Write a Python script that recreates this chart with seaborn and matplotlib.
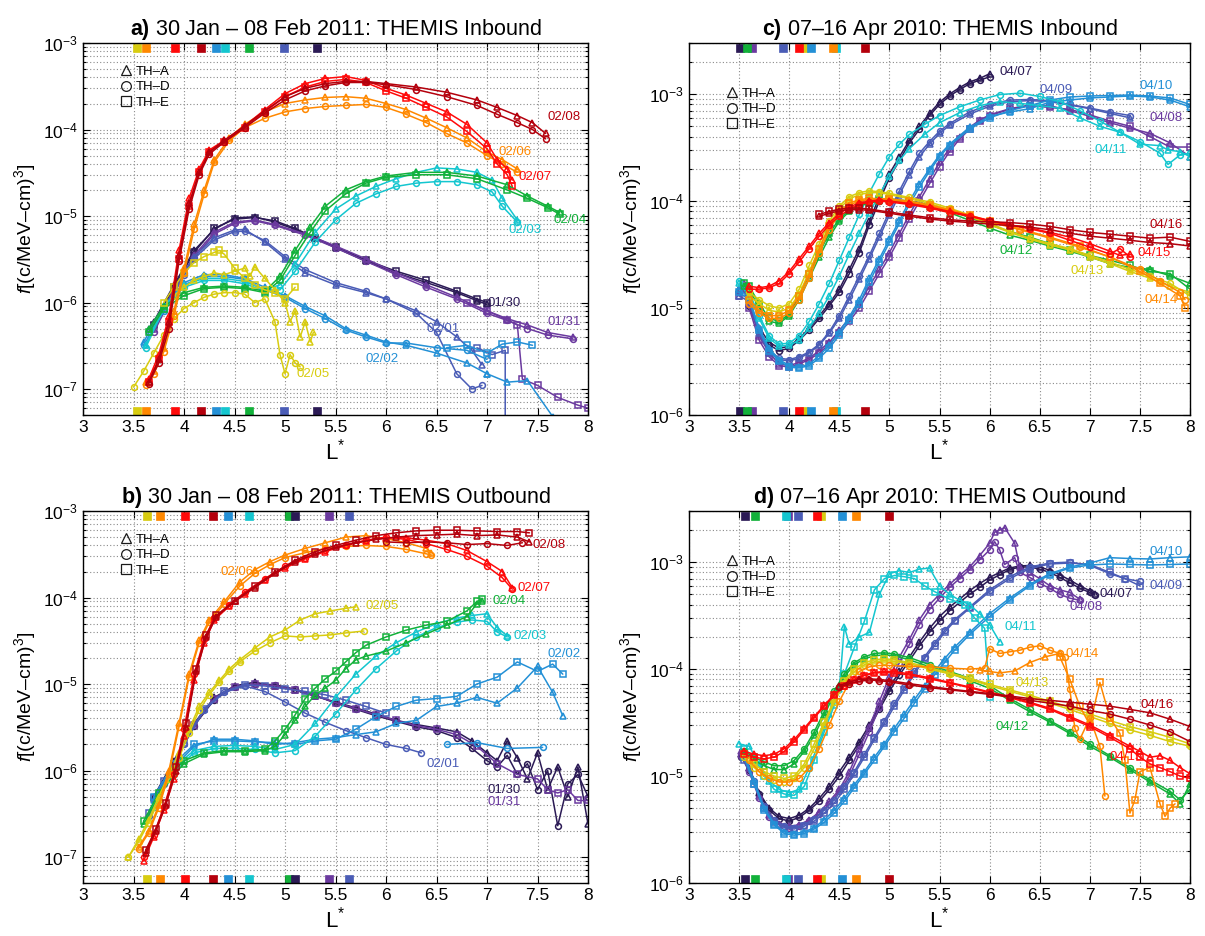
import matplotlib
matplotlib.use("Agg")
import matplotlib.pyplot as plt
from matplotlib.lines import Line2D
from matplotlib.ticker import LogLocator, NullFormatter
import pandas as pd
import seaborn as sns

# ------------------------------------------------------------------ data
DAYS_2011 = ["01/30", "01/31", "02/01", "02/02", "02/03", "02/04", "02/05", "02/06", "02/07", "02/08"]
DAYS_2010 = ["04/07", "04/08", "04/09", "04/10", "04/11", "04/12", "04/13", "04/14", "04/15", "04/16"]
DAY_COLORS = ["#2b1a55", "#6b3a9f", "#4a5cb6", "#2390d6", "#14c6cf",
              "#12b13a", "#d8cc10", "#ff8800", "#ff0a0a", "#b4000c"]
X_TICKS = [3, 3.5, 4, 4.5, 5, 5.5, 6, 6.5, 7, 7.5, 8]
X_TICK_LABELS = ["3", "3.5", "4", "4.5", "5", "5.5", "6", "6.5", "7", "7.5", "8"]

# ---- panel a: 2011 inbound
a0130_L = [3.7,3.9,4.1,4.3,4.5,4.7,4.9,5.1,5.3,5.5,5.8,6.1,6.4,6.7,6.9,7.0]
a0130_A = [6e-7,1.6e-6,4e-6,7e-6,9.5e-6,9.8e-6,8.5e-6,7e-6,5.5e-6,4.3e-6,3e-6,2.2e-6,1.7e-6,1.3e-6,1.05e-6,9.5e-7]
a0130_E = [5.5e-7,1.5e-6,3.8e-6,7.2e-6,9.2e-6,9.6e-6,8.8e-6,7.2e-6,5.6e-6,4.4e-6,3.1e-6,2.3e-6,1.8e-6,1.35e-6,1.1e-6,1.0e-6]
a0131_L = [3.7,3.9,4.1,4.3,4.5,4.7,4.9,5.2,5.5,5.8,6.1,6.4,6.7,7.0,7.2,7.4,7.6,7.85]
a0131_A = [5e-7,1.4e-6,3.5e-6,6.5e-6,8.5e-6,9e-6,8e-6,6.2e-6,4.5e-6,3.2e-6,2.2e-6,1.6e-6,1.15e-6,8e-7,6.5e-7,5.5e-7,4.5e-7,4e-7]
a0131_D = [4.5e-7,1.3e-6,3.3e-6,6.2e-6,8.2e-6,8.8e-6,7.8e-6,6e-6,4.3e-6,3e-6,2.1e-6,1.5e-6,1.1e-6,7.5e-7,6.2e-7,5e-7,4.2e-7,3.8e-7]
a0131_E_L = [6.8,7.0,7.2,7.3,7.35,7.5,7.7,7.9,8.0]
a0131_E = [1.0e-6,8e-7,6.3e-7,5.5e-7,1.3e-7,1.1e-7,8e-8,6.5e-8,6e-8]
a0201_L = [3.65,3.8,3.9,4.0,4.1,4.3,4.5,4.6,4.8,5.0,5.2,5.5,5.8,6.0,6.3,6.5,6.7,6.85,6.95]
a0201_A = [5e-7,9e-7,1.3e-6,2.2e-6,3.4e-6,5.6e-6,6.9e-6,7e-6,5e-6,3.2e-6,2.2e-6,1.6e-6,1.3e-6,1.1e-6,8e-7,6e-7,4e-7,2.8e-7,1.9e-7]
a0201_D = [4.6e-7,8.5e-7,1.25e-6,2.1e-6,3.2e-6,5.3e-6,6.6e-6,6.7e-6,5.2e-6,3.4e-6,2.4e-6,1.7e-6,1.35e-6,1.1e-6,7.5e-7,4.5e-7,1.5e-7,1.0e-7,1.1e-7]
a0201_E_L = [6.9,7.05,7.18,7.18]
a0201_E = [3.0e-7,2.5e-7,2.8e-7,3e-8]
a0202_L = [3.6,3.8,4.0,4.2,4.4,4.6,4.8,5.0,5.2,5.4,5.6,5.8,6.0,6.2,6.5,6.8,7.0]
a0202_A = [3.5e-7,9e-7,1.7e-6,2.1e-6,2.1e-6,1.9e-6,1.5e-6,1.2e-6,9e-7,7e-7,5e-7,4.2e-7,3.5e-7,3.2e-7,2.6e-7,2e-7,1.5e-7]
a0202_D = [3.2e-7,8e-7,1.6e-6,2.0e-6,2.0e-6,1.85e-6,1.4e-6,1.15e-6,8.5e-7,6.5e-7,4.8e-7,4e-7,3.4e-7,3.4e-7,3e-7,2.8e-7,2.2e-7]
a0202_A2_L = [7.0,7.2,7.4,7.65]
a0202_A2 = [1.5e-7,1.2e-7,1.25e-7,4.8e-8]
a0202_E_L = [6.6,6.8,7.0,7.15,7.3,7.45]
a0202_E = [3e-7,3.2e-7,2.6e-7,3.3e-7,3.5e-7,3.2e-7]
a0203_L = [3.62,3.8,4.0,4.2,4.4,4.6,4.8,4.95,5.1,5.3,5.5,5.7,5.9,6.1,6.3,6.5,6.7,6.9,7.05,7.15,7.3]
a0203_A = [3.2e-7,9e-7,1.6e-6,1.9e-6,1.9e-6,1.75e-6,1.4e-6,1.6e-6,2.8e-6,6.5e-6,1.2e-5,1.7e-5,2.2e-5,2.7e-5,3.2e-5,3.6e-5,3.5e-5,3.2e-5,2.6e-5,1.6e-5,9e-6]
a0203_D = [3e-7,8.5e-7,1.5e-6,1.8e-6,1.8e-6,1.65e-6,1.35e-6,1.4e-6,2.3e-6,5e-6,9e-6,1.4e-5,1.8e-5,2.2e-5,2.4e-5,2.5e-5,2.5e-5,2.3e-5,1.9e-5,1.3e-5,8.5e-6]
a0204_L = [3.65,3.8,4.0,4.2,4.4,4.6,4.8,4.95,5.1,5.25,5.4,5.6,5.8,6.0,6.3,6.6,6.9,7.2,7.4,7.6,7.72]
a0204_A = [5e-7,9e-7,1.3e-6,1.5e-6,1.55e-6,1.5e-6,1.35e-6,2e-6,4e-6,7.5e-6,1.3e-5,2e-5,2.5e-5,2.9e-5,3.2e-5,3.2e-5,2.9e-5,2.3e-5,1.7e-5,1.3e-5,1.1e-5]
a0204_E = [4.5e-7,8.5e-7,1.2e-6,1.45e-6,1.5e-6,1.45e-6,1.3e-6,1.8e-6,3.5e-6,6.5e-6,1.15e-5,1.8e-5,2.4e-5,2.8e-5,3.0e-5,3.0e-5,2.7e-5,2.0e-5,1.6e-5,1.25e-5,1.05e-5]
a0205_A_L = [3.9,4.0,4.1,4.2,4.3,4.4,4.5,4.6,4.65,4.7,4.8,4.9,5.0,5.05,5.1,5.15,5.2,5.25,5.28]
a0205_A = [1.2e-6,1.5e-6,1.8e-6,2e-6,2.2e-6,2.1e-6,2.3e-6,2.5e-6,2e-6,2.6e-6,1.9e-6,1.4e-6,1e-6,6e-7,8e-7,4e-7,6e-7,3.5e-7,4.5e-7]
a0205_D_L = [3.5,3.6,3.7,3.8,3.9,4.0,4.1,4.2,4.3,4.4,4.5,4.6,4.7,4.8,4.9,4.95,5.0,5.05,5.1,5.15]
a0205_D = [1.05e-7,1.6e-7,2.6e-7,4.2e-7,6.5e-7,8.5e-7,1.0e-6,1.15e-6,1.25e-6,1.3e-6,1.3e-6,1.25e-6,1.0e-6,1.1e-6,6e-7,2.5e-7,1.5e-7,2.5e-7,2.0e-7,1.8e-7]
a0205_E_L = [3.8,3.9,4.0,4.1,4.2,4.3,4.35,4.4,4.5,4.6,4.7,4.8,4.9,5.0,5.1]
a0205_E = [1.0e-6,1.5e-6,2.2e-6,2.9e-6,3.4e-6,3.8e-6,4e-6,3.6e-6,2.5e-6,1.9e-6,1.6e-6,1.4e-6,1.3e-6,1.1e-6,1.5e-6]
a0206_L = [3.62,3.7,3.8,3.9,4.0,4.1,4.2,4.3,4.45,4.6,4.8,5.0,5.2,5.4,5.6,5.8,6.0,6.2,6.4,6.6,6.8,7.0,7.15,7.3]
a0206_A = [1.2e-7,1.6e-7,3e-7,8e-7,2.5e-6,8e-6,2e-5,4.5e-5,8e-5,1.15e-4,1.6e-4,2.0e-4,2.2e-4,2.35e-4,2.4e-4,2.3e-4,2.0e-4,1.7e-4,1.35e-4,1.05e-4,8e-5,5.5e-5,4.5e-5,3.5e-5]
a0206_D = [1.1e-7,1.5e-7,2.7e-7,7e-7,2.2e-6,7e-6,1.8e-5,4.2e-5,7.5e-5,1.05e-4,1.35e-4,1.6e-4,1.75e-4,1.85e-4,1.9e-4,1.95e-4,1.8e-4,1.5e-4,1.2e-4,9e-5,7e-5,5e-5,4e-5,3.2e-5]
a0207_L = [3.65,3.75,3.85,3.95,4.05,4.15,4.25,4.4,4.6,4.8,5.0,5.2,5.4,5.6,5.8,6.0,6.2,6.4,6.6,6.8,7.0,7.1,7.2,7.25]
a0207_A = [1.3e-7,2.5e-7,7e-7,4e-6,1.6e-5,3.5e-5,5.8e-5,7.5e-5,1.1e-4,1.7e-4,2.6e-4,3.4e-4,3.9e-4,4.1e-4,3.7e-4,3.0e-4,2.5e-4,2.0e-4,1.6e-4,1.15e-4,7e-5,4.5e-5,3.5e-5,2.6e-5]
a0207_E = [1.2e-7,2.2e-7,6e-7,3.2e-6,1.3e-5,3.2e-5,5.5e-5,7.2e-5,1.05e-4,1.6e-4,2.4e-4,3.1e-4,3.6e-4,3.8e-4,3.5e-4,2.8e-4,2.3e-4,1.8e-4,1.4e-4,9.5e-5,6e-5,4e-5,3e-5,2.2e-5]
a0208_L = [3.65,3.75,3.85,3.95,4.05,4.15,4.25,4.4,4.6,4.8,5.0,5.2,5.4,5.6,5.8,6.0,6.3,6.6,6.9,7.1,7.3,7.45,7.58]
a0208_A = [1.2e-7,2.2e-7,6e-7,3.5e-6,1.4e-5,3.2e-5,5.5e-5,7.5e-5,1.1e-4,1.65e-4,2.4e-4,3.0e-4,3.4e-4,3.6e-4,3.6e-4,3.4e-4,3.1e-4,2.7e-4,2.2e-4,1.8e-4,1.45e-4,1.2e-4,9e-5]
a0208_D = [1.15e-7,2e-7,5e-7,3e-6,1.2e-5,3e-5,5.2e-5,7.2e-5,1.05e-4,1.55e-4,2.2e-4,2.8e-4,3.2e-4,3.5e-4,3.5e-4,3.3e-4,2.9e-4,2.4e-4,1.9e-4,1.5e-4,1.2e-4,1.0e-4,7.8e-5]

# ---- panel b: 2011 outbound
b0130_L = [3.7,3.9,4.1,4.3,4.5,4.7,4.9,5.1,5.3,5.5,5.7,5.9,6.1,6.3,6.5,6.7,6.85,7.0,7.1,7.2,7.3,7.4,7.5,7.6,7.7,7.8,7.9,8.0]
b0130_A = [5e-7,1.3e-6,3.5e-6,7e-6,9.5e-6,1.05e-5,9.5e-6,8.5e-6,7.2e-6,6.2e-6,5.3e-6,4.5e-6,3.8e-6,3.4e-6,3.1e-6,2.8e-6,2.2e-6,1.6e-6,1.3e-6,2.2e-6,1.4e-6,8e-7,1.6e-6,6e-7,1.1e-6,5e-7,1.1e-6,2.4e-7]
b0130_D = [4.5e-7,1.2e-6,3.3e-6,6.6e-6,9.2e-6,1.0e-5,9.8e-6,8.7e-6,7.4e-6,6.0e-6,5.1e-6,4.3e-6,3.7e-6,3.2e-6,2.9e-6,2.4e-6,1.8e-6,1.3e-6,1.1e-6,1.5e-6,9e-7,1.2e-6,6e-7,1.0e-6,2.3e-7,7e-7,9e-7,5e-7]
b0131_L = [3.7,3.9,4.1,4.3,4.5,4.7,4.9,5.1,5.3,5.5,5.7,5.9,6.1,6.3,6.5,6.7,6.9,7.1,7.3,7.5,7.6,7.7,7.8,7.9,8.0]
b0131_E = [4.8e-7,1.2e-6,3.4e-6,6.8e-6,9.3e-6,1.0e-5,9.6e-6,8.6e-6,7.3e-6,6.1e-6,5.2e-6,4.4e-6,3.8e-6,3.3e-6,3.0e-6,2.6e-6,1.9e-6,1.2e-6,9e-7,8e-7,6e-7,5.5e-7,6e-7,4.5e-7,4.5e-7]
b0201_D_L = [3.65,3.8,4.0,4.2,4.4,4.6,4.8,5.0,5.2,5.4,5.6,5.8,6.0,6.2,6.35]
b0201_D = [3e-7,7e-7,2e-6,5e-6,8e-6,9.5e-6,8.2e-6,6.2e-6,4.6e-6,3.6e-6,2.9e-6,2.4e-6,2.0e-6,1.8e-6,1.6e-6]
b0201_E_L = [3.65,3.8,4.0,4.2,4.4,4.6,4.8,5.0,5.2,5.4,5.6,5.8,6.0]
b0201_E = [3.2e-7,7.5e-7,2.1e-6,5.2e-6,8.2e-6,9.8e-6,9.5e-6,8.8e-6,8.2e-6,7.5e-6,6.5e-6,5.5e-6,4.6e-6]
b0202_L = [3.7,3.9,4.1,4.3,4.5,4.7,4.9,5.1,5.3,5.5,5.7,5.9,6.1,6.3,6.5,6.7,6.9,7.1,7.3,7.5,7.65,7.75]
b0202_E = [5e-7,1.2e-6,2e-6,2.2e-6,2.2e-6,2.15e-6,2.1e-6,2.0e-6,2.2e-6,2.3e-6,3.0e-6,4.2e-6,5.5e-6,6.5e-6,6.8e-6,7.2e-6,1.0e-5,1.2e-5,1.8e-5,1.4e-5,1.7e-5,1.3e-5]
b0202_A = [4.5e-7,1.1e-6,1.9e-6,2.3e-6,2.3e-6,2.2e-6,2.0e-6,2.1e-6,2.3e-6,2.4e-6,2.6e-6,2.8e-6,3.5e-6,3.8e-6,5.5e-6,6.0e-6,7.0e-6,6.0e-6,9e-6,1.6e-5,8e-6,4.3e-6]
b0202_D_L = [6.6,6.9,7.2,7.55]
b0202_D = [2.0e-6,2.1e-6,1.8e-6,1.85e-6]
b0203_L = [3.7,3.9,4.1,4.3,4.5,4.7,4.9,5.1,5.3,5.5,5.7,5.9,6.1,6.3,6.5,6.7,6.85,7.0,7.1,7.2]
b0203_A = [4e-7,1.1e-6,1.7e-6,1.9e-6,1.95e-6,1.9e-6,1.75e-6,2.0e-6,3.5e-6,7e-6,1.3e-5,2.1e-5,3.0e-5,4.0e-5,5.0e-5,5.8e-5,6.2e-5,6.5e-5,4.5e-5,3.6e-5]
b0203_D = [3.8e-7,1.0e-6,1.6e-6,1.8e-6,1.8e-6,1.75e-6,1.6e-6,1.7e-6,2.5e-6,4.5e-6,8.5e-6,1.5e-5,2.4e-5,3.5e-5,4.5e-5,5.2e-5,5.5e-5,5.3e-5,4.0e-5,3.5e-5]
b0204_L = [3.6,3.75,3.9,4.0,4.2,4.4,4.6,4.8,4.9,5.0,5.1,5.2,5.3,5.4,5.5,5.6,5.7,5.8,6.0,6.2,6.4,6.6,6.8,6.9,6.95]
b0204_A = [2.4e-7,5e-7,9e-7,1.2e-6,1.55e-6,1.65e-6,1.65e-6,1.7e-6,1.9e-6,2.6e-6,3.8e-6,5.5e-6,7.5e-6,9e-6,1.1e-5,1.5e-5,1.9e-5,2.1e-5,2.4e-5,3.0e-5,3.8e-5,4.8e-5,6.0e-5,8.5e-5,9.2e-5]
b0204_E = [2.6e-7,5.5e-7,1.0e-6,1.3e-6,1.6e-6,1.7e-6,1.7e-6,1.75e-6,2.2e-6,3.0e-6,4.4e-6,6.8e-6,9e-6,1.15e-5,1.4e-5,1.8e-5,2.3e-5,2.8e-5,3.5e-5,4.2e-5,4.8e-5,5.3e-5,7.0e-5,9.0e-5,9.5e-5]
b0205_A_L = [3.45,3.55,3.65,3.75,3.85,3.95,4.05,4.15,4.25,4.35,4.45,4.55,4.7,4.85,5.0,5.15,5.3,5.45,5.6,5.7]
b0205_A = [1e-7,1.6e-7,2.7e-7,5e-7,9e-7,1.6e-6,3e-6,5.5e-6,8e-6,1.1e-5,1.5e-5,1.9e-5,2.6e-5,3.5e-5,4.2e-5,5.5e-5,6.5e-5,7.0e-5,7.5e-5,7.8e-5]
b0205_D_L = [3.45,3.55,3.65,3.75,3.85,3.95,4.05,4.15,4.25,4.35,4.45,4.55,4.7,4.85,5.0,5.15,5.3,5.45,5.6,5.78]
b0205_D = [1e-7,1.5e-7,2.5e-7,4.5e-7,8e-7,1.4e-6,2.7e-6,5e-6,7.5e-6,1.05e-5,1.4e-5,1.8e-5,2.4e-5,3.0e-5,3.6e-5,3.5e-5,3.6e-5,3.7e-5,3.9e-5,4.1e-5]
b0206_L = [3.55,3.65,3.75,3.85,3.95,4.05,4.15,4.25,4.4,4.55,4.7,4.85,5.0,5.2,5.4,5.6,5.8,6.0,6.2,6.4,6.45]
b0206_A = [1.3e-7,2e-7,4e-7,1e-6,3.5e-6,1.3e-5,3.2e-5,5.5e-5,9e-5,1.5e-4,2.1e-4,2.6e-4,3.1e-4,3.7e-4,4.3e-4,5.0e-4,5.2e-4,4.8e-4,4.3e-4,3.7e-4,3.3e-4]
b0206_D = [1.25e-7,1.9e-7,3.7e-7,9e-7,3.2e-6,1.2e-5,3.0e-5,5.2e-5,8.5e-5,1.35e-4,1.9e-4,2.4e-4,2.9e-4,3.3e-4,3.7e-4,3.9e-4,4.0e-4,3.9e-4,3.6e-4,3.2e-4,3.1e-4]
b0207_L = [3.6,3.7,3.8,3.9,4.0,4.1,4.2,4.3,4.45,4.6,4.8,5.0,5.2,5.4,5.6,5.8,6.0,6.2,6.4,6.6,6.8,7.0,7.15,7.25]
b0207_A = [9e-8,1.7e-7,3.5e-7,8e-7,2.5e-6,1.1e-5,3e-5,5.5e-5,8e-5,1.1e-4,1.6e-4,2.2e-4,2.8e-4,3.4e-4,4.0e-4,4.5e-4,4.9e-4,4.9e-4,4.6e-4,4.2e-4,3.5e-4,2.6e-4,2.0e-4,1.3e-4]
b0207_D = [1e-7,1.8e-7,3.8e-7,9e-7,3e-6,1.3e-5,3.3e-5,5.8e-5,8.2e-5,1.15e-4,1.65e-4,2.3e-4,2.9e-4,3.5e-4,4.1e-4,4.6e-4,5.0e-4,4.7e-4,4.2e-4,3.6e-4,3.0e-4,2.3e-4,1.7e-4,1.25e-4]
b0208_L = [3.62,3.72,3.82,3.92,4.02,4.12,4.22,4.32,4.5,4.7,4.9,5.1,5.3,5.5,5.7,5.9,6.1,6.3,6.5,6.7,6.9,7.1,7.3,7.42]
b0208_A = [1.1e-7,2e-7,4e-7,1e-6,3.2e-6,1.4e-5,3.5e-5,6e-5,9e-5,1.3e-4,1.9e-4,2.6e-4,3.2e-4,3.8e-4,4.3e-4,4.7e-4,5.0e-4,5.2e-4,5.3e-4,5.4e-4,5.2e-4,5.3e-4,5.0e-4,4.4e-4]
b0208_E = [1.2e-7,2.1e-7,4.2e-7,1.1e-6,3.5e-6,1.5e-5,3.7e-5,6.2e-5,9.2e-5,1.35e-4,1.95e-4,2.7e-4,3.4e-4,4.0e-4,4.6e-4,5.2e-4,5.6e-4,5.9e-4,6.0e-4,6.0e-4,5.9e-4,5.8e-4,5.8e-4,5.6e-4]
b0208_D_L = [6.0,6.2,6.4,6.6,6.8,7.0,7.2,7.35]
b0208_D = [4.4e-4,4.3e-4,4.4e-4,4.3e-4,4.1e-4,4.2e-4,4.0e-4,4.3e-4]

# ---- panel c: 2010 inbound
c0407_L = [3.5,3.55,3.6,3.7,3.8,3.9,4.0,4.1,4.2,4.3,4.4,4.5,4.6,4.7,4.8,4.9,5.0,5.1,5.2,5.3,5.4,5.5,5.6,5.7,5.8,5.9,6.0]
c0407_A = [1.5e-5,1.6e-5,1.1e-5,6.5e-6,4.8e-6,4.2e-6,4.4e-6,5.2e-6,6.5e-6,8.5e-6,1.1e-5,1.5e-5,2.3e-5,3.6e-5,6.5e-5,1.1e-4,1.8e-4,2.6e-4,3.7e-4,5.0e-4,6.6e-4,8.4e-4,1.0e-3,1.15e-3,1.3e-3,1.4e-3,1.55e-3]
c0407_D = [1.4e-5,1.5e-5,1.05e-5,6e-6,4.5e-6,4.0e-6,4.2e-6,5.0e-6,6.2e-6,8.0e-6,1.05e-5,1.4e-5,2.1e-5,3.3e-5,6.0e-5,1.0e-4,1.65e-4,2.4e-4,3.5e-4,4.7e-4,6.3e-4,8.0e-4,9.6e-4,1.1e-3,1.25e-3,1.35e-3,1.45e-3]
c0408_L = [3.5,3.55,3.6,3.7,3.8,3.9,4.0,4.1,4.2,4.3,4.4,4.5,4.6,4.7,4.8,4.9,5.0,5.1,5.2,5.3,5.4,5.5,5.6,5.7,5.8,5.9,6.0,6.2,6.4,6.6,6.8,7.0,7.2,7.4,7.6,7.8,8.0]
c0408_A = [1.5e-5,1.7e-5,1.1e-5,5.5e-6,3.8e-6,3.0e-6,2.9e-6,3.1e-6,3.4e-6,4.0e-6,4.8e-6,6.2e-6,8e-6,1.1e-5,1.6e-5,2.3e-5,3.3e-5,5.0e-5,7.5e-5,1.1e-4,1.6e-4,2.3e-4,3.1e-4,4.0e-4,4.9e-4,5.7e-4,6.4e-4,7.3e-4,7.9e-4,7.8e-4,7.0e-4,6.2e-4,5.4e-4,4.8e-4,4.3e-4,3.5e-4,2.6e-4]
c0408_E = [1.3e-5,1.5e-5,1.0e-5,5e-6,3.5e-6,2.9e-6,2.8e-6,3.0e-6,3.3e-6,3.8e-6,4.6e-6,5.8e-6,7.5e-6,1.0e-5,1.45e-5,2.1e-5,3.0e-5,4.5e-5,6.8e-5,1.0e-4,1.45e-4,2.1e-4,2.9e-4,3.8e-4,4.7e-4,5.6e-4,6.3e-4,7.2e-4,7.8e-4,7.5e-4,7.2e-4,6.4e-4,5.6e-4,5.0e-4,4.0e-4,3.2e-4,3.2e-4]
c0409_L = [3.5,3.6,3.7,3.8,3.9,4.0,4.1,4.2,4.3,4.4,4.5,4.6,4.7,4.8,4.9,5.0,5.1,5.2,5.3,5.4,5.5,5.6,5.8,6.0,6.2,6.4,6.6,6.8,7.0,7.2,7.4]
c0409_D = [1.4e-5,1.2e-5,6e-6,4e-6,3.4e-6,3.3e-6,3.5e-6,3.9e-6,4.6e-6,6.0e-6,8.5e-6,1.3e-5,2.0e-5,3.1e-5,5e-5,8e-5,1.25e-4,1.9e-4,2.8e-4,3.6e-4,4.5e-4,5.3e-4,6.8e-4,8.0e-4,8.8e-4,8.9e-4,8.7e-4,8.0e-4,7.4e-4,6.8e-4,6.3e-4]
c0409_A = [1.3e-5,1.15e-5,5.8e-6,3.8e-6,3.3e-6,3.2e-6,3.4e-6,3.8e-6,4.5e-6,5.8e-6,8.0e-6,1.2e-5,1.85e-5,2.9e-5,4.6e-5,7.4e-5,1.15e-4,1.75e-4,2.6e-4,3.4e-4,4.3e-4,5.1e-4,6.5e-4,7.7e-4,8.5e-4,8.7e-4,8.5e-4,7.9e-4,7.3e-4,6.6e-4,6.0e-4]
c0410_L = [3.5,3.6,3.7,3.8,3.9,4.0,4.1,4.2,4.3,4.4,4.5,4.6,4.7,4.8,4.9,5.0,5.1,5.2,5.3,5.4,5.5,5.6,5.8,6.0,6.2,6.4,6.6,6.8,7.0,7.2,7.4,7.6,7.8,8.0]
c0410_A = [1.5e-5,1.25e-5,6.5e-6,4.2e-6,3.3e-6,2.9e-6,2.8e-6,3.0e-6,3.6e-6,4.5e-6,6.0e-6,8.3e-6,1.2e-5,1.9e-5,2.9e-5,4.4e-5,6.6e-5,1.0e-4,1.45e-4,2.0e-4,2.7e-4,3.4e-4,4.9e-4,6.2e-4,6.8e-4,7.3e-4,8.4e-4,8.8e-4,9.2e-4,9.4e-4,9.6e-4,9.4e-4,8.8e-4,7.6e-4]
c0410_E = [1.4e-5,1.2e-5,6.2e-6,4.0e-6,3.2e-6,2.8e-6,2.75e-6,2.9e-6,3.4e-6,4.2e-6,5.6e-6,7.8e-6,1.1e-5,1.75e-5,2.7e-5,4.1e-5,6.2e-5,9.3e-5,1.35e-4,1.9e-4,2.6e-4,3.3e-4,4.7e-4,6.0e-4,7.0e-4,7.8e-4,8.8e-4,9.4e-4,9.6e-4,9.7e-4,9.8e-4,9.6e-4,9.2e-4,8.0e-4]
c0411_L = [3.5,3.6,3.7,3.8,3.9,4.0,4.1,4.2,4.3,4.4,4.5,4.6,4.7,4.8,4.9,5.0,5.1,5.2,5.35,5.5,5.7,5.9,6.1,6.3,6.5,6.7,6.9,7.1,7.3,7.5,7.7,7.78,7.9,8.0]
c0411_D = [1.8e-5,1.4e-5,8.5e-6,5.5e-6,4.6e-6,4.7e-6,5.5e-6,7.5e-6,1.1e-5,1.7e-5,2.8e-5,4.6e-5,7.5e-5,1.2e-4,1.8e-4,2.6e-4,3.4e-4,4.2e-4,5.2e-4,6.3e-4,7.6e-4,8.8e-4,9.9e-4,1.02e-3,9.5e-4,8.5e-4,7.0e-4,5.6e-4,4.4e-4,3.6e-4,2.8e-4,2.2e-4,2.7e-4,2.8e-4]
c0411_A = [1.7e-5,1.3e-5,8e-6,5.2e-6,4.4e-6,4.5e-6,5.0e-6,6.5e-6,9e-6,1.3e-5,2.0e-5,3.2e-5,5.0e-5,7.8e-5,1.15e-4,1.7e-4,2.4e-4,3.1e-4,4.2e-4,5.4e-4,6.7e-4,7.8e-4,8.5e-4,8.2e-4,7.8e-4,7.4e-4,6.0e-4,5.0e-4,4.4e-4,3.4e-4,3.3e-4,3.0e-4,2.9e-4,2.6e-4]
c0412_L = [3.55,3.6,3.7,3.8,3.9,4.0,4.1,4.2,4.3,4.4,4.5,4.6,4.7,4.8,4.9,5.0,5.2,5.4,5.6,5.8,6.0,6.2,6.4,6.6,6.8,7.0,7.2,7.4,7.6,7.8,8.0]
c0412_A = [1.6e-5,1.5e-5,1.0e-5,7.5e-6,7.2e-6,8.5e-6,1.2e-5,1.9e-5,3.0e-5,4.6e-5,6.5e-5,8.0e-5,9.0e-5,9.6e-5,1.0e-4,1.02e-4,9.6e-5,8.8e-5,7.8e-5,6.6e-5,5.6e-5,4.8e-5,4.3e-5,3.8e-5,3.4e-5,3.0e-5,2.6e-5,2.4e-5,2.3e-5,2.0e-5,1.7e-5]
c0412_E = [1.7e-5,1.6e-5,1.1e-5,8.0e-6,7.5e-6,8.8e-6,1.3e-5,2.1e-5,3.3e-5,5.0e-5,6.8e-5,8.3e-5,9.3e-5,1.0e-4,1.05e-4,1.05e-4,1.0e-4,9.2e-5,8.2e-5,7.0e-5,6.0e-5,5.2e-5,4.6e-5,4.0e-5,3.5e-5,3.1e-5,2.8e-5,2.5e-5,2.2e-5,2.1e-5,1.5e-5]
c0413_L = [3.6,3.7,3.8,3.9,4.0,4.1,4.2,4.3,4.4,4.5,4.6,4.7,4.8,4.9,5.0,5.2,5.4,5.6,5.8,6.0,6.2,6.4,6.6,6.8,7.0,7.2,7.4,7.6,7.8,8.0]
c0413_D = [1.4e-5,1.2e-5,1.05e-5,1.0e-5,1.1e-5,1.5e-5,2.5e-5,4.0e-5,6.5e-5,9.0e-5,1.1e-4,1.2e-4,1.25e-4,1.22e-4,1.18e-4,1.08e-4,9.8e-5,8.6e-5,7.4e-5,6.2e-5,5.2e-5,4.5e-5,4.0e-5,3.6e-5,3.1e-5,2.7e-5,2.3e-5,2.0e-5,1.7e-5,1.3e-5]
c0413_A = [1.3e-5,1.1e-5,9.5e-6,9.2e-6,1.0e-5,1.35e-5,2.2e-5,3.6e-5,6.0e-5,8.5e-5,1.05e-4,1.15e-4,1.2e-4,1.2e-4,1.15e-4,1.05e-4,9.5e-5,8.3e-5,7.2e-5,6.0e-5,5.1e-5,4.4e-5,3.9e-5,3.5e-5,3.0e-5,2.6e-5,2.2e-5,1.9e-5,1.6e-5,1.4e-5]
c0414_L = [3.6,3.7,3.8,3.9,4.0,4.1,4.2,4.3,4.4,4.5,4.6,4.7,4.8,5.0,5.2,5.4,5.6,5.8,6.0,6.3,6.6,6.9,7.2,7.5,7.7,7.9,7.95]
c0414_E = [1.2e-5,9.5e-6,8.5e-6,8.5e-6,9.5e-6,1.3e-5,2.1e-5,3.6e-5,5.8e-5,8.0e-5,9.6e-5,1.03e-4,1.06e-4,1.05e-4,1.0e-4,9.2e-5,8.3e-5,7.4e-5,6.5e-5,5.5e-5,4.6e-5,3.8e-5,3.0e-5,2.2e-5,1.7e-5,1.3e-5,1.0e-5]
c0414_D = [1.1e-5,9e-6,8e-6,8e-6,9e-6,1.2e-5,1.9e-5,3.3e-5,5.4e-5,7.6e-5,9.2e-5,1.0e-4,1.03e-4,1.02e-4,9.8e-5,9.0e-5,8.2e-5,7.3e-5,6.4e-5,5.4e-5,4.5e-5,3.7e-5,3.0e-5,2.3e-5,1.8e-5,1.4e-5,1.2e-5]
c0415_L = [3.6,3.7,3.8,3.9,4.0,4.1,4.2,4.3,4.4,4.5,4.6,4.7,4.8,4.9,5.0,5.2,5.4,5.6,5.8,6.0,6.2,6.4,6.6,6.8,7.0,7.2,7.3,7.4]
c0415_A = [1.6e-5,1.55e-5,1.6e-5,1.8e-5,2.2e-5,2.9e-5,3.8e-5,5.0e-5,6.3e-5,7.6e-5,8.8e-5,9.6e-5,1.0e-4,1.02e-4,1.0e-4,9.5e-5,8.8e-5,8.0e-5,7.3e-5,6.6e-5,6.0e-5,5.6e-5,5.1e-5,4.6e-5,4.0e-5,3.4e-5,3.1e-5,3.2e-5]
c0415_D = [1.5e-5,1.5e-5,1.55e-5,1.7e-5,2.1e-5,2.7e-5,3.6e-5,4.7e-5,6.0e-5,7.2e-5,8.4e-5,9.3e-5,9.8e-5,1.0e-4,9.8e-5,9.3e-5,8.6e-5,7.8e-5,7.2e-5,6.5e-5,6.0e-5,5.5e-5,5.0e-5,4.3e-5,3.7e-5,3.2e-5,3.6e-5,3.0e-5]
c0416_L = [4.3,4.4,4.5,4.6,4.7,4.8,5.0,5.2,5.4,5.6,5.8,6.0,6.2,6.4,6.6,6.8,7.0,7.2,7.4,7.6,7.8,8.0]
c0416_E = [7.5e-5,8.0e-5,8.4e-5,8.6e-5,8.6e-5,8.4e-5,7.9e-5,7.4e-5,7.0e-5,6.7e-5,6.5e-5,6.4e-5,6.3e-5,6.1e-5,5.8e-5,5.4e-5,5.1e-5,4.9e-5,4.7e-5,4.5e-5,4.6e-5,4.2e-5]
c0416_A = [7.2e-5,7.7e-5,8.1e-5,8.3e-5,8.3e-5,8.2e-5,7.7e-5,7.2e-5,6.8e-5,6.5e-5,6.3e-5,6.1e-5,5.9e-5,5.7e-5,5.4e-5,5.0e-5,4.7e-5,4.5e-5,4.3e-5,4.1e-5,4.0e-5,3.8e-5]

# ---- panel d: 2010 outbound
d0407_L = [3.52,3.6,3.7,3.8,3.9,4.0,4.1,4.2,4.3,4.4,4.5,4.6,4.7,4.8,4.9,5.0,5.1,5.2,5.3,5.4,5.5,5.6,5.7,5.8,5.9,6.0,6.1,6.2,6.3,6.4,6.5,6.6,6.7,6.8,6.9,7.0,7.05]
d0407_A = [1.6e-5,1.2e-5,7e-6,5e-6,4.2e-6,4.0e-6,4.3e-6,5.0e-6,6.2e-6,8.0e-6,1.1e-5,1.5e-5,2.1e-5,3.0e-5,4.5e-5,6.7e-5,9.5e-5,1.3e-4,1.8e-4,2.4e-4,3.1e-4,3.8e-4,4.5e-4,5.4e-4,6.3e-4,7.2e-4,8.0e-4,8.8e-4,9.2e-4,9.3e-4,9.0e-4,8.4e-4,7.6e-4,6.8e-4,6.0e-4,5.4e-4,5.0e-4]
d0407_D = [1.5e-5,1.15e-5,6.8e-6,4.8e-6,4.0e-6,3.8e-6,4.1e-6,4.8e-6,5.8e-6,7.5e-6,1.0e-5,1.4e-5,1.95e-5,2.8e-5,4.2e-5,6.2e-5,8.8e-5,1.2e-4,1.65e-4,2.2e-4,2.8e-4,3.5e-4,4.2e-4,5.0e-4,5.8e-4,6.8e-4,7.6e-4,8.5e-4,9.0e-4,9.0e-4,8.6e-4,8.0e-4,7.2e-4,6.4e-4,5.7e-4,5.2e-4,4.9e-4]
d0408_L = [3.52,3.6,3.7,3.8,3.9,4.0,4.1,4.2,4.3,4.4,4.5,4.6,4.7,4.8,4.9,5.0,5.1,5.2,5.3,5.4,5.5,5.6,5.7,5.8,5.9,6.0,6.05,6.1,6.15,6.25,6.3,6.4,6.5,6.6,6.7,6.8,6.9]
d0408_A = [1.7e-5,1.2e-5,6.5e-6,4.3e-6,3.6e-6,3.4e-6,3.5e-6,3.9e-6,4.6e-6,5.8e-6,7.5e-6,1.1e-5,1.8e-5,2.9e-5,5.0e-5,8.5e-5,1.3e-4,1.9e-4,2.9e-4,4.0e-4,5.0e-4,6.2e-4,7.5e-4,9.0e-4,1.15e-3,1.5e-3,1.9e-3,2.0e-3,2.1e-3,1.5e-3,9e-4,8e-4,7e-4,6.0e-4,5.5e-4,5.2e-4,4.5e-4]
d0408_D = [1.55e-5,1.1e-5,6.2e-6,4.1e-6,3.5e-6,3.3e-6,3.4e-6,3.8e-6,4.4e-6,5.5e-6,7.2e-6,1.0e-5,1.6e-5,2.6e-5,4.4e-5,7.5e-5,1.15e-4,1.7e-4,2.6e-4,3.6e-4,4.6e-4,5.8e-4,7.0e-4,8.5e-4,1.05e-3,1.3e-3,1.55e-3,1.3e-3,9.5e-4,1.1e-3,8.0e-4,7.2e-4,6.3e-4,5.7e-4,5.0e-4,4.6e-4,4.4e-4]
d0409_L = [3.55,3.65,3.75,3.85,3.95,4.05,4.15,4.25,4.35,4.45,4.55,4.65,4.75,4.85,4.95,5.05,5.15,5.25,5.35,5.45,5.55,5.65,5.8,6.0,6.2,6.4,6.6,6.8,7.0,7.2,7.35,7.5]
d0409_D = [1.5e-5,9e-6,5.2e-6,3.9e-6,3.4e-6,3.3e-6,3.5e-6,4.0e-6,4.8e-6,6.0e-6,8e-6,1.1e-5,1.6e-5,2.3e-5,3.3e-5,4.8e-5,6.8e-5,9.5e-5,1.3e-4,1.75e-4,2.3e-4,2.9e-4,3.8e-4,5.5e-4,7.3e-4,9.0e-4,9.8e-4,1.0e-3,9.3e-4,7.8e-4,7.0e-4,6.6e-4]
d0409_E = [1.4e-5,8.5e-6,5.0e-6,3.7e-6,3.3e-6,3.2e-6,3.4e-6,3.8e-6,4.5e-6,5.6e-6,7.5e-6,1.05e-5,1.5e-5,2.2e-5,3.1e-5,4.5e-5,6.4e-5,9.0e-5,1.25e-4,1.65e-4,2.2e-4,2.8e-4,3.7e-4,5.3e-4,7.0e-4,8.7e-4,9.6e-4,9.8e-4,9.5e-4,8.0e-4,7.0e-4,6.0e-4]
d0410_L = [3.55,3.65,3.75,3.85,3.95,4.05,4.15,4.25,4.35,4.45,4.55,4.65,4.75,4.85,4.95,5.05,5.15,5.25,5.35,5.45,5.55,5.65,5.8,6.0,6.2,6.4,6.6,6.8,7.0,7.2,7.4,7.6,7.8,8.0]
d0410_A = [1.6e-5,9e-6,5e-6,3.6e-6,3.0e-6,2.9e-6,3.0e-6,3.3e-6,3.9e-6,4.8e-6,6.2e-6,8.3e-6,1.1e-5,1.5e-5,2.0e-5,2.8e-5,3.8e-5,5.2e-5,7.0e-5,9.5e-5,1.25e-4,1.6e-4,2.2e-4,3.3e-4,4.6e-4,6.2e-4,7.8e-4,9.0e-4,9.8e-4,1.1e-3,1.08e-3,1.07e-3,1.1e-3,1.12e-3]
d0410_E = [1.5e-5,8.5e-6,4.8e-6,3.5e-6,2.9e-6,2.8e-6,2.9e-6,3.2e-6,3.7e-6,4.5e-6,5.8e-6,7.8e-6,1.05e-5,1.4e-5,1.9e-5,2.6e-5,3.5e-5,4.8e-5,6.5e-5,8.8e-5,1.15e-4,1.5e-4,2.1e-4,3.1e-4,4.4e-4,6.0e-4,7.6e-4,8.8e-4,9.4e-4,9.6e-4,9.5e-4,9.4e-4,9.5e-4,9.6e-4]
d0411_A_L = [3.5,3.6,3.7,3.8,3.9,4.0,4.1,4.2,4.3,4.4,4.5,4.55,4.6,4.7,4.8,4.9,5.0,5.1,5.2,5.3,5.4,5.5,5.6,5.7,5.8,5.9,6.0,6.1]
d0411_A = [2.0e-5,1.9e-5,1.3e-5,9e-6,7.5e-6,7.0e-6,7.5e-6,1.2e-5,2.1e-5,3.8e-5,6.5e-5,2.5e-4,1.7e-4,2.0e-4,2.2e-4,5.0e-4,7.8e-4,8.3e-4,8.0e-4,8.6e-4,8.8e-4,6.0e-4,5.0e-4,4.4e-4,4.0e-4,3.3e-4,2.6e-4,1.8e-4]
d0411_E_L = [3.55,3.65,3.75,3.85,3.95,4.05,4.15,4.25,4.35,4.45,4.55,4.65,4.75,4.85,4.95,5.05,5.15,5.25,5.35,5.45,5.6,5.75,5.85,5.95,6.0]
d0411_E = [1.8e-5,1.5e-5,1.0e-5,7.5e-6,6.8e-6,6.6e-6,8.0e-6,1.4e-5,2.6e-5,4.6e-5,9.0e-5,1.6e-4,2.8e-4,5.5e-4,7.0e-4,7.5e-4,7.3e-4,7.0e-4,6.0e-4,5.3e-4,4.5e-4,4.0e-4,3.0e-4,2.4e-4,5.5e-5]
d0412_L = [3.55,3.65,3.75,3.85,3.95,4.05,4.15,4.25,4.35,4.45,4.55,4.65,4.75,4.85,4.95,5.05,5.2,5.4,5.6,5.8,6.0,6.2,6.4,6.6,6.8,7.0,7.2,7.4,7.6,7.8,7.9,8.0]
d0412_D = [1.7e-5,1.5e-5,1.35e-5,1.25e-5,1.25e-5,1.4e-5,1.8e-5,2.6e-5,4.0e-5,6.3e-5,9.0e-5,1.15e-4,1.3e-4,1.4e-4,1.42e-4,1.38e-4,1.28e-4,1.1e-4,9.5e-5,8.2e-5,7.0e-5,5.3e-5,4.2e-5,3.3e-5,2.6e-5,2.0e-5,1.55e-5,1.2e-5,9.2e-6,7.2e-6,6.0e-6,7.5e-6]
d0412_A = [1.6e-5,1.4e-5,1.25e-5,1.15e-5,1.15e-5,1.3e-5,1.7e-5,2.4e-5,3.7e-5,5.9e-5,8.5e-5,1.1e-4,1.25e-4,1.33e-4,1.36e-4,1.33e-4,1.22e-4,1.05e-4,9.2e-5,7.8e-5,6.6e-5,5.1e-5,4.0e-5,3.2e-5,2.5e-5,1.9e-5,1.5e-5,1.15e-5,8.8e-6,6.8e-6,5.5e-6,8.5e-6]
d0413_L = [3.55,3.65,3.75,3.85,3.95,4.05,4.15,4.25,4.35,4.45,4.55,4.65,4.75,4.85,4.95,5.05,5.2,5.4,5.6,5.8,6.0,6.2,6.4,6.6,6.8,7.0,7.2,7.4,7.6,7.8,8.0]
d0413_E = [1.6e-5,1.3e-5,1.1e-5,1.0e-5,9.5e-6,1.0e-5,1.3e-5,2.0e-5,3.2e-5,5.2e-5,7.8e-5,1.0e-4,1.15e-4,1.22e-4,1.25e-4,1.22e-4,1.15e-4,1.03e-4,9.2e-5,8.2e-5,7.2e-5,6.4e-5,5.7e-5,5.0e-5,4.4e-5,3.8e-5,3.3e-5,2.9e-5,2.6e-5,2.3e-5,2.0e-5]
d0413_D = [1.5e-5,1.2e-5,1.0e-5,9.2e-6,8.8e-6,9.5e-6,1.2e-5,1.8e-5,3.0e-5,4.9e-5,7.4e-5,9.5e-5,1.1e-4,1.17e-4,1.2e-4,1.18e-4,1.12e-4,1.0e-4,9.0e-5,8.0e-5,7.0e-5,6.2e-5,5.5e-5,4.8e-5,4.2e-5,3.6e-5,3.1e-5,2.7e-5,2.4e-5,2.1e-5,1.9e-5]
d0414_D_L = [3.6,3.7,3.8,3.9,4.0,4.1,4.2,4.3,4.4,4.5,4.6,4.7,4.8,4.9,5.0,5.2,5.4,5.6,5.8,5.95,6.0,6.1,6.2,6.3,6.4,6.5,6.6,6.7,6.75,6.8,6.85,6.9,7.0,7.1,7.15]
d0414_D = [1.4e-5,1.1e-5,9.5e-6,8.8e-6,8.8e-6,9.5e-6,1.2e-5,1.8e-5,3.0e-5,5.0e-5,7.5e-5,9.5e-5,1.05e-4,1.08e-4,1.08e-4,1.06e-4,1.05e-4,1.02e-4,1.0e-4,1.02e-4,1.55e-4,1.4e-4,1.45e-4,1.5e-4,1.6e-4,1.65e-4,1.5e-4,1.4e-4,1.3e-4,6.5e-5,2.8e-5,2.2e-5,3.5e-5,1.9e-5,6.5e-6]
d0414_E_L = [6.7,6.8,6.9,7.0,7.1,7.2,7.3,7.35,7.4,7.45,7.5,7.6,7.7,7.75,7.8,7.85]
d0414_E = [1.3e-4,8e-5,4.5e-5,3.0e-5,7.5e-5,3.5e-5,2.5e-5,1.4e-5,4.5e-6,6e-6,1.1e-5,1.2e-5,5.5e-6,4.2e-6,5e-6,5.5e-6]
d0414_A_L = [5.9,6.0,6.1,6.25,6.4,6.55,6.7]
d0414_A = [9.8e-5,9.5e-5,9.2e-5,9.6e-5,1.15e-4,1.3e-4,1.4e-4]
d0415_L = [3.55,3.65,3.75,3.85,3.95,4.05,4.15,4.25,4.35,4.45,4.55,4.65,4.75,4.85,4.95,5.05,5.2,5.4,5.6,5.8,6.0,6.2,6.4,6.6,6.8,7.0,7.2,7.4,7.5,7.6,7.7,7.8,7.9,8.0]
d0415_A = [1.7e-5,1.6e-5,1.55e-5,1.6e-5,1.8e-5,2.2e-5,2.8e-5,3.6e-5,4.6e-5,5.8e-5,7.0e-5,8.0e-5,8.8e-5,9.3e-5,9.5e-5,9.5e-5,9.0e-5,8.3e-5,7.5e-5,6.8e-5,6.1e-5,5.5e-5,4.9e-5,4.3e-5,3.6e-5,3.0e-5,2.4e-5,1.9e-5,1.7e-5,1.5e-5,1.55e-5,1.4e-5,1.2e-5,1.05e-5]
d0415_E = [1.6e-5,1.5e-5,1.45e-5,1.5e-5,1.7e-5,2.1e-5,2.7e-5,3.5e-5,4.5e-5,5.7e-5,6.9e-5,7.9e-5,8.7e-5,9.2e-5,9.3e-5,9.2e-5,8.8e-5,8.1e-5,7.4e-5,6.7e-5,6.0e-5,5.4e-5,4.8e-5,4.2e-5,3.5e-5,2.9e-5,2.3e-5,1.8e-5,1.5e-5,1.3e-5,1.2e-5,1.1e-5,1.0e-5,9.5e-6]
d0416_L = [4.5,4.6,4.7,4.8,4.9,5.0,5.2,5.4,5.6,5.8,6.0,6.2,6.4,6.6,6.8,7.0,7.2,7.4,7.6,7.8,8.0]
d0416_A = [7.0e-5,7.6e-5,8.0e-5,8.1e-5,8.0e-5,7.8e-5,7.3e-5,6.9e-5,6.5e-5,6.2e-5,5.9e-5,5.6e-5,5.3e-5,5.1e-5,4.9e-5,4.7e-5,4.5e-5,4.2e-5,3.9e-5,3.4e-5,2.9e-5]
d0416_D = [6.8e-5,7.3e-5,7.7e-5,7.9e-5,7.8e-5,7.6e-5,7.1e-5,6.7e-5,6.4e-5,6.1e-5,5.8e-5,5.5e-5,5.1e-5,4.8e-5,4.5e-5,4.1e-5,3.8e-5,3.4e-5,3.0e-5,2.6e-5,2.1e-5]

# ---- plasmapause markers (top/bottom coloured squares)
pp_a_days = ["02/05","02/06","02/07","02/08","02/02","02/03","02/04","02/01","01/30"]
pp_a_L = [3.53,3.62,3.91,4.17,4.32,4.41,4.64,4.99,5.32]
pp_b_days = ["02/05","02/06","02/07","02/08","02/02","02/03","02/04","01/30","01/31","02/01"]
pp_b_L = [3.63,3.76,4.01,4.29,4.44,4.64,5.04,5.10,5.44,5.63]
pp_c_days = ["04/08","04/13","04/11","04/07","04/12","04/09","04/15","04/10","04/14","04/16"]
pp_c_L = [3.63,4.15,4.47,3.51,3.58,3.94,4.10,4.22,4.44,4.76]
pp_d_days = ["04/08","04/13","04/07","04/12","04/11","04/09","04/15","04/10","04/14","04/16"]
pp_d_L = [3.99,4.32,3.56,3.66,3.97,4.09,4.28,4.53,4.67,5.00]

# ---- day labels
lab_a_days = ["02/08","02/06","02/07","02/04","02/03","01/30","01/31","02/01","02/02","02/05"]
lab_a_L = [7.6,7.11,7.31,7.66,7.21,7.0,7.6,6.4,5.8,5.11]
lab_a_f = [1.4e-4,5.5e-5,2.8e-5,9.1e-6,6.9e-6,1.0e-6,5.9e-7,5.0e-7,2.2e-7,1.5e-7]
lab_b_days = ["02/08","02/06","02/07","02/05","02/04","02/03","02/02","02/01","01/30","01/31"]
lab_b_L = [7.45,4.36,7.3,5.8,7.05,7.26,7.6,6.4,7.0,7.0]
lab_b_f = [4.0e-4,2.0e-4,1.3e-4,8.0e-5,9.1e-5,3.6e-5,2.2e-5,1.2e-6,6.0e-7,4.3e-7]
lab_c_days = ["04/07","04/09","04/10","04/08","04/11","04/16","04/15","04/12","04/13","04/14"]
lab_c_L = [6.1,6.5,7.5,7.6,7.05,7.6,7.48,6.1,6.81,7.55]
lab_c_f = [1.6e-3,1.1e-3,1.2e-3,6.0e-4,3.0e-4,6.0e-5,3.3e-5,3.4e-5,2.2e-5,1.2e-5]
lab_d_days = ["04/10","04/09","04/07","04/08","04/11","04/14","04/13","04/16","04/12","04/15"]
lab_d_L = [7.6,7.6,7.1,6.8,6.15,6.76,6.26,7.51,6.06,7.2]
lab_d_f = [1.24e-3,6.0e-4,5.0e-4,3.8e-4,2.45e-4,1.38e-4,7.4e-5,4.6e-5,2.9e-5,1.5e-5]

# ------------------------------------------------------------------ registries
curves_a = [
    ("01/30","TH-A",a0130_L,a0130_A), ("01/30","TH-E",a0130_L,a0130_E),
    ("01/31","TH-A",a0131_L,a0131_A), ("01/31","TH-D",a0131_L,a0131_D), ("01/31","TH-E",a0131_E_L,a0131_E),
    ("02/01","TH-A",a0201_L,a0201_A), ("02/01","TH-D",a0201_L,a0201_D), ("02/01","TH-E",a0201_E_L,a0201_E),
    ("02/02","TH-A",a0202_L,a0202_A), ("02/02","TH-D",a0202_L,a0202_D), ("02/02","TH-A",a0202_A2_L,a0202_A2),
    ("02/02","TH-E",a0202_E_L,a0202_E),
    ("02/03","TH-A",a0203_L,a0203_A), ("02/03","TH-D",a0203_L,a0203_D),
    ("02/04","TH-A",a0204_L,a0204_A), ("02/04","TH-E",a0204_L,a0204_E),
    ("02/05","TH-A",a0205_A_L,a0205_A), ("02/05","TH-D",a0205_D_L,a0205_D), ("02/05","TH-E",a0205_E_L,a0205_E),
    ("02/06","TH-A",a0206_L,a0206_A), ("02/06","TH-D",a0206_L,a0206_D),
    ("02/07","TH-A",a0207_L,a0207_A), ("02/07","TH-E",a0207_L,a0207_E),
    ("02/08","TH-A",a0208_L,a0208_A), ("02/08","TH-D",a0208_L,a0208_D),
]
curves_b = [
    ("01/30","TH-A",b0130_L,b0130_A), ("01/30","TH-D",b0130_L,b0130_D),
    ("01/31","TH-E",b0131_L,b0131_E),
    ("02/01","TH-D",b0201_D_L,b0201_D), ("02/01","TH-E",b0201_E_L,b0201_E),
    ("02/02","TH-E",b0202_L,b0202_E), ("02/02","TH-A",b0202_L,b0202_A), ("02/02","TH-D",b0202_D_L,b0202_D),
    ("02/03","TH-A",b0203_L,b0203_A), ("02/03","TH-D",b0203_L,b0203_D),
    ("02/04","TH-A",b0204_L,b0204_A), ("02/04","TH-E",b0204_L,b0204_E),
    ("02/05","TH-A",b0205_A_L,b0205_A), ("02/05","TH-D",b0205_D_L,b0205_D),
    ("02/06","TH-A",b0206_L,b0206_A), ("02/06","TH-D",b0206_L,b0206_D),
    ("02/07","TH-A",b0207_L,b0207_A), ("02/07","TH-D",b0207_L,b0207_D),
    ("02/08","TH-A",b0208_L,b0208_A), ("02/08","TH-E",b0208_L,b0208_E), ("02/08","TH-D",b0208_D_L,b0208_D),
]
curves_c = [
    ("04/07","TH-A",c0407_L,c0407_A), ("04/07","TH-D",c0407_L,c0407_D),
    ("04/08","TH-A",c0408_L,c0408_A), ("04/08","TH-E",c0408_L,c0408_E),
    ("04/09","TH-D",c0409_L,c0409_D), ("04/09","TH-A",c0409_L,c0409_A),
    ("04/10","TH-A",c0410_L,c0410_A), ("04/10","TH-E",c0410_L,c0410_E),
    ("04/11","TH-D",c0411_L,c0411_D), ("04/11","TH-A",c0411_L,c0411_A),
    ("04/12","TH-A",c0412_L,c0412_A), ("04/12","TH-E",c0412_L,c0412_E),
    ("04/13","TH-D",c0413_L,c0413_D), ("04/13","TH-A",c0413_L,c0413_A),
    ("04/14","TH-E",c0414_L,c0414_E), ("04/14","TH-D",c0414_L,c0414_D),
    ("04/15","TH-A",c0415_L,c0415_A), ("04/15","TH-D",c0415_L,c0415_D),
    ("04/16","TH-E",c0416_L,c0416_E), ("04/16","TH-A",c0416_L,c0416_A),
]
curves_d = [
    ("04/07","TH-A",d0407_L,d0407_A), ("04/07","TH-D",d0407_L,d0407_D),
    ("04/08","TH-A",d0408_L,d0408_A), ("04/08","TH-D",d0408_L,d0408_D),
    ("04/09","TH-D",d0409_L,d0409_D), ("04/09","TH-E",d0409_L,d0409_E),
    ("04/10","TH-A",d0410_L,d0410_A), ("04/10","TH-E",d0410_L,d0410_E),
    ("04/11","TH-A",d0411_A_L,d0411_A), ("04/11","TH-E",d0411_E_L,d0411_E),
    ("04/12","TH-D",d0412_L,d0412_D), ("04/12","TH-A",d0412_L,d0412_A),
    ("04/13","TH-E",d0413_L,d0413_E), ("04/13","TH-D",d0413_L,d0413_D),
    ("04/14","TH-D",d0414_D_L,d0414_D), ("04/14","TH-E",d0414_E_L,d0414_E), ("04/14","TH-A",d0414_A_L,d0414_A),
    ("04/15","TH-A",d0415_L,d0415_A), ("04/15","TH-E",d0415_L,d0415_E),
    ("04/16","TH-A",d0416_L,d0416_A), ("04/16","TH-D",d0416_L,d0416_D),
]

# ------------------------------------------------------------------ style
sns.set_theme(style="white")
plt.rcParams.update({
    "font.family": ["Liberation Sans", "DejaVu Sans"],
    "mathtext.fontset": "custom",
    "mathtext.rm": "Liberation Sans",
    "mathtext.it": "Liberation Sans:italic",
    "mathtext.bf": "Liberation Sans:bold",
    "axes.edgecolor": "black",
    "axes.linewidth": 1.0,
    "xtick.color": "black", "ytick.color": "black",
    "axes.labelcolor": "black", "text.color": "black",
})

MARKERS = {"TH-A": "^", "TH-D": "o", "TH-E": "s"}

fig = plt.figure(figsize=(12.05, 9.36), dpi=100)


def draw_panel(rect, curves, days, pp_days, pp_L, lab_days, lab_L, lab_f,
               ylim, letter, title, legend_y):
    colors = dict(zip(days, DAY_COLORS))
    ax = fig.add_axes(rect)
    ax.set_yscale("log")
    rows = []
    for cid, (day, sc, L, f) in enumerate(curves):
        for x, y in zip(L, f):
            rows.append({"L": x, "f": y, "day": day, "sc": sc, "cid": cid})
    df = pd.DataFrame(rows)
    sns.lineplot(data=df, x="L", y="f", hue="day", hue_order=days, palette=colors,
                 style="sc", style_order=["TH-A", "TH-D", "TH-E"], markers=MARKERS,
                 dashes=False, units="cid", estimator=None, sort=False, legend=False,
                 ax=ax, lw=1.1, ms=4.2, mew=1.1, zorder=3)
    for ln in ax.lines:
        ln.set_markeredgecolor(ln.get_color())
        ln.set_markerfacecolor("none")

    # plasmapause squares
    tr = ax.get_xaxis_transform()
    for d, x in zip(pp_days, pp_L):
        for yy in (0.988, 0.012):
            ax.plot([x], [yy], marker="s", ms=6.2, mfc=colors[d], mec=colors[d],
                    mew=0.5, ls="none", transform=tr, clip_on=False, zorder=6)

    # day labels
    for d, x, y in zip(lab_days, lab_L, lab_f):
        ax.text(x, y, d, color=colors[d], fontsize=9.5, ha="left", va="center", zorder=7)

    ax.set_xlim(3, 8)
    ax.set_ylim(*ylim)
    ax.set_xticks(X_TICKS)
    ax.set_xticklabels(X_TICK_LABELS)
    ax.yaxis.set_major_locator(LogLocator(base=10, numticks=15))
    ax.yaxis.set_minor_locator(LogLocator(base=10, subs=[2, 3, 4, 5, 6, 7, 8, 9], numticks=15))
    ax.yaxis.set_minor_formatter(NullFormatter())
    ax.tick_params(which="both", direction="in", top=True, right=True, bottom=True, left=True,
                   labelsize=12.5, width=0.8)
    ax.tick_params(which="major", length=5)
    ax.tick_params(which="minor", length=2.5)
    ax.grid(True, which="major", axis="both", ls=(0, (1, 2)), color="#8a8a8a", lw=0.8)
    ax.grid(True, which="minor", axis="y", ls=(0, (1, 2)), color="#8a8a8a", lw=0.8)
    ax.set_axisbelow(True)
    for s in ax.spines.values():
        s.set_linewidth(1.0)
        s.set_zorder(8)

    ax.set_xlabel(r"L$^{*}$", fontsize=16, labelpad=3)
    ax.set_ylabel(r"$\mathit{f}$[(c/MeV–cm)$^{3}$]", fontsize=14, labelpad=4)
    ax.set_title(r"$\mathbf{" + letter + r")}$ " + title, fontsize=15.5, pad=6)

    handles = [Line2D([], [], ls="none", marker=m, mfc="none", mec="k", color="k",
                      ms=7, mew=0.9) for m in ("^", "o", "s")]
    ax.legend(handles, ["TH–A", "TH–D", "TH–E"], loc="upper left",
              bbox_to_anchor=(0.075, legend_y), frameon=False, fontsize=9.5,
              handlelength=0.8, handletextpad=0.35, labelspacing=0.25,
              borderaxespad=0, borderpad=0)
    return ax


draw_panel([0.0689, 0.5566, 0.4191, 0.3974], curves_a, DAYS_2011, pp_a_days, pp_a_L,
           lab_a_days, lab_a_L, lab_a_f, (5e-8, 1e-3), "a",
           "30 Jan – 08 Feb 2011: THEMIS Inbound", 0.94)
draw_panel([0.0689, 0.0566, 0.4191, 0.3974], curves_b, DAYS_2011, pp_b_days, pp_b_L,
           lab_b_days, lab_b_L, lab_b_f, (5e-8, 1e-3), "b",
           "30 Jan – 08 Feb 2011: THEMIS Outbound", 0.94)
draw_panel([0.5718, 0.5566, 0.4158, 0.3974], curves_c, DAYS_2010, pp_c_days, pp_c_L,
           lab_c_days, lab_c_L, lab_c_f, (1e-6, 3e-3), "c",
           "07–16 Apr 2010: THEMIS Inbound", 0.88)
draw_panel([0.5718, 0.0566, 0.4158, 0.3974], curves_d, DAYS_2010, pp_d_days, pp_d_L,
           lab_d_days, lab_d_L, lab_d_f, (1e-6, 3e-3), "d",
           "07–16 Apr 2010: THEMIS Outbound", 0.88)

fig.savefig("out.png", dpi=100)
